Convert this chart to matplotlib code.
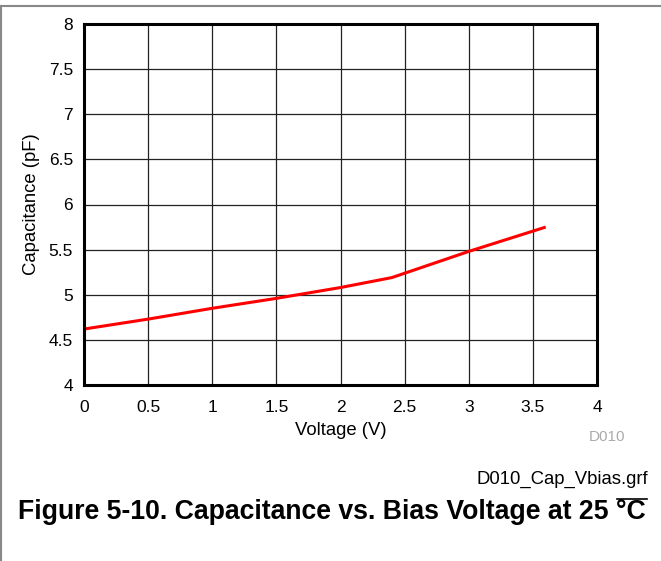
import matplotlib
matplotlib.use("Agg")
import matplotlib.pyplot as plt
from matplotlib.lines import Line2D

voltage = [0, 0.5, 1.0, 1.5, 2.0, 2.4, 3.0, 3.6]
capacitance = [4.62, 4.73, 4.85, 4.96, 5.08, 5.19, 5.48, 5.75]
x_ticks = [0, 0.5, 1, 1.5, 2, 2.5, 3, 3.5, 4]
x_tick_labels = ["0", "0.5", "1", "1.5", "2", "2.5", "3", "3.5", "4"]
y_ticks = [4, 4.5, 5, 5.5, 6, 6.5, 7, 7.5, 8]
y_tick_labels = ["4", "4.5", "5", "5.5", "6", "6.5", "7", "7.5", "8"]

plt.rcParams['font.family'] = ['Liberation Sans', 'DejaVu Sans']

W, H = 661, 561
fig = plt.figure(figsize=(W / 100, H / 100), dpi=100)
ax = fig.add_axes([84 / W, 1 - 385 / H, (597 - 84) / W, (385 - 24) / H])

ax.plot(voltage, capacitance, color="#ff0000", lw=2.2, solid_capstyle="butt")
ax.set_xlim(0, 4)
ax.set_ylim(4, 8)
ax.set_xticks(x_ticks)
ax.set_xticklabels(x_tick_labels)
ax.set_yticks(y_ticks)
ax.set_yticklabels(y_tick_labels)
ax.tick_params(length=0, labelsize=12.5, colors="black")
ax.tick_params(axis="x", pad=11)
ax.tick_params(axis="y", pad=8)
ax.grid(True, color="#222222", lw=0.9)
for s in ax.spines.values():
    s.set_linewidth(2.2)
    s.set_color("black")
ax.set_xlabel("Voltage (V)", fontsize=13.3, labelpad=5)
ax.set_ylabel("Capacitance (pF)", fontsize=13.3, labelpad=6)

fig.text(607 / W, 1 - 437 / H, "D010", fontsize=11, color="#aaaaaa", ha="center", va="center")
fig.text(648 / W, 1 - 484 / H, "D010_Cap_Vbias.grf", fontsize=13.3, ha="right", va="baseline")
fig.text(18 / W, 1 - 519 / H, "Figure 5-10. Capacitance vs. Bias Voltage at 25 °C",
         fontsize=19.2, fontweight="bold", ha="left", va="baseline")
fig.add_artist(Line2D([617 / W, 647 / W], [1 - 499 / H, 1 - 499 / H], color="black", lw=1.2))

fig.add_artist(Line2D([0, 1], [1 - 6 / H, 1 - 6 / H], color="#888888", lw=1.5))
fig.add_artist(Line2D([1 / W, 1 / W], [0, 1 - 6 / H], color="#888888", lw=1.5))

fig.savefig("out.png", dpi=100)
